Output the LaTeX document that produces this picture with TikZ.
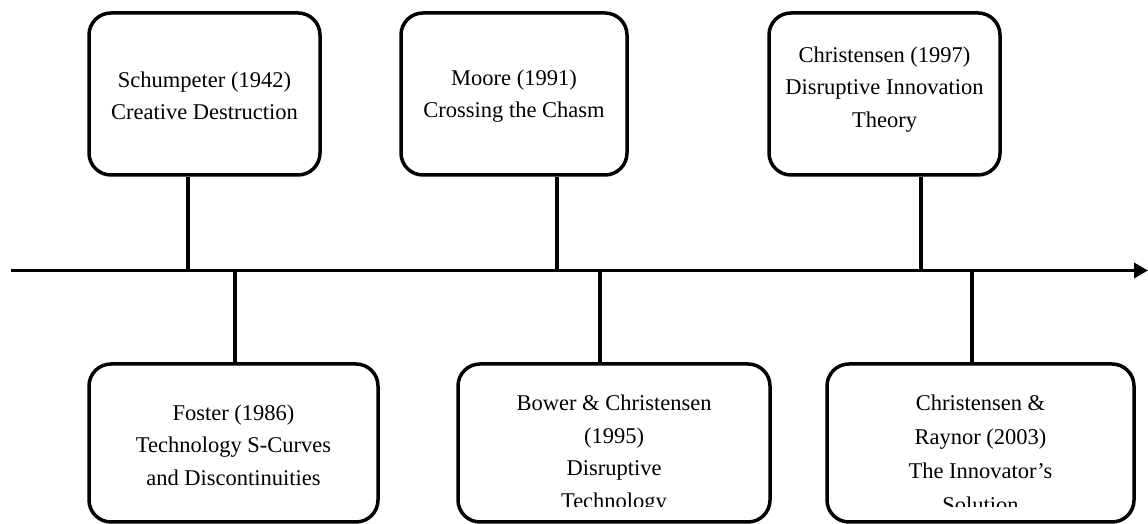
\documentclass[tikz,border=0pt]{standalone}
\usepackage{fontspec}
\setmainfont{Liberation Serif}
\usetikzlibrary{arrows.meta}
\tikzset{
  stage/.style={draw, line width=3.5pt, rounded corners=22pt, inner sep=0pt, minimum height=162pt},
  lowstage/.style={stage, minimum height=158pt},
  label/.style={align=center, inner sep=0pt, font=\fontsize{22.5}{32.5}\selectfont},
  link/.style={line width=3.5pt}
}
\begin{document}
\begin{tikzpicture}[x=1pt,y=1pt]
            \useasboundingbox (0,0) rectangle (1148,524);

            \node[stage, minimum width=231pt] (Schum) at (204.5,430) {};
            \node[stage, minimum width=226pt] (Moore) at (514,430) {};
            \node[stage, minimum width=231pt] (Chr) at (884.5,430) {};
            \node[lowstage, minimum width=289pt] (Foster) at (233.5,81) {};
            \node[lowstage, minimum width=312pt] (Bower) at (614,81) {};
            \node[lowstage, minimum width=307pt] (Raynor) at (980.5,81) {};

            \node[label] (SchumT) at (204.5,428) {Schumpeter (1942)\\Creative Destruction};
            \node[label] (MooreT) at (514,428) {Moore (1991)\\Crossing the Chasm};
            \node[label] (ChrT) at (884.5,434.5) {Christensen (1997)\\Disruptive Innovation\\Theory};
            \begin{scope}
            \clip (0,17) rectangle (1148,160);
            \node[label] (FosterT) at (233.5,79) {Foster (1986)\\Technology S-Curves\\and Discontinuities};
            \node[label] (BowerT) at (614,70) {Bower \& Christensen\\(1995)\\Disruptive\\Technology};
            \node[label, font=\fontsize{22.5}{34}\selectfont] (RaynorT) at (980.5,70) {Christensen \&\\Raynor (2003)\\The Innovator’s\\Solution};
            \end{scope}

            \coordinate (start) at (11,253.5);
            \coordinate (end) at (1148,253.5);
            \coordinate (a1) at (188,253.5); \coordinate (a2) at (557,253.5); \coordinate (a3) at (921,253.5);
            \coordinate (b1) at (235,253.5); \coordinate (b2) at (600,253.5); \coordinate (b3) at (972,253.5);

            \draw[link, -{Triangle[length=14pt,width=15pt]}] (start) to (end);
            \draw[link] (a1) to (a1 |- Schum.south); \draw[link] (a2) to (a2 |- Moore.south); \draw[link] (a3) to (a3 |- Chr.south);
            \draw[link] (b1) to (b1 |- Foster.north); \draw[link] (b2) to (b2 |- Bower.north); \draw[link] (b3) to (b3 |- Raynor.north);
        \end{tikzpicture}
\end{document}
